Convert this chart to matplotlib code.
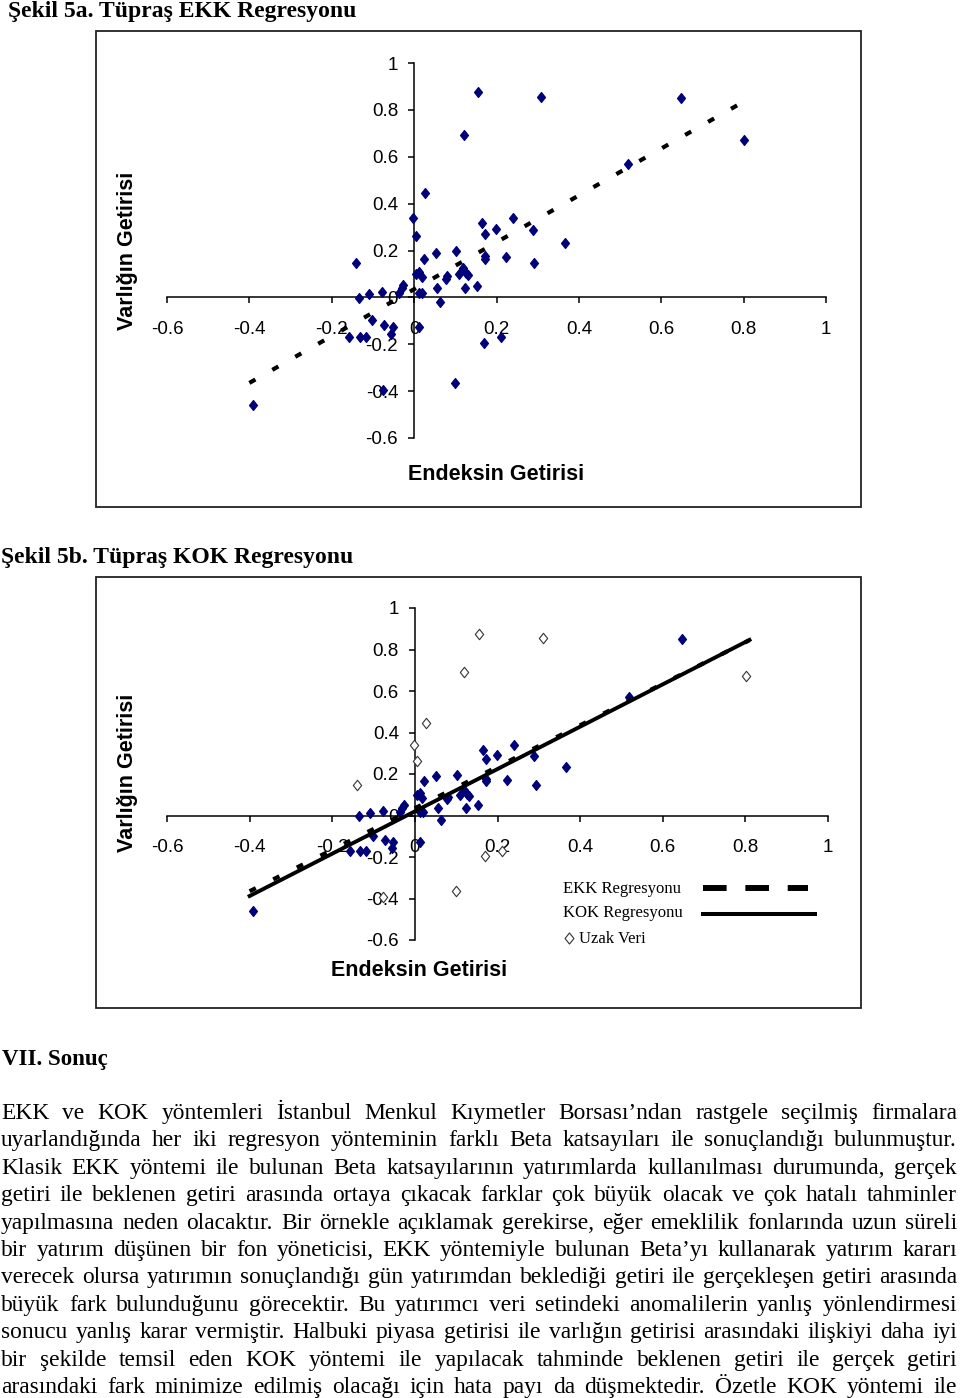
import matplotlib
matplotlib.use("Agg")
import matplotlib.pyplot as plt
from matplotlib.lines import Line2D
from matplotlib.patches import Rectangle
from matplotlib.path import Path

W, H = 960, 1398

# index return (x) vs asset return (y)
endeks = [0.155, 0.309, 0.647, 0.120, 0.801, 0.519, 0.027, -0.002, 0.004, 0.239,
          0.166, 0.199, 0.172, 0.288, 0.367, 0.102, 0.052, 0.023, -0.141, 0.173,
          0.172, 0.224, 0.292, 0.004, 0.012, 0.018, 0.077, 0.081, 0.110, 0.119,
          0.126, 0.132, 0.153, 0.056, 0.123, -0.026, -0.030, -0.036, 0.012, 0.019,
          -0.078, -0.109, -0.135, 0.063, -0.102, -0.072, -0.052, -0.056, 0.012, -0.158,
          -0.132, -0.118, 0.170, 0.210, 0.099, -0.076, -0.391]
varlik = [0.875, 0.855, 0.849, 0.693, 0.673, 0.570, 0.445, 0.339, 0.263, 0.339,
          0.316, 0.290, 0.272, 0.289, 0.232, 0.196, 0.191, 0.164, 0.145, 0.178,
          0.164, 0.171, 0.145, 0.100, 0.107, 0.085, 0.078, 0.090, 0.100, 0.124,
          0.102, 0.095, 0.050, 0.038, 0.038, 0.053, 0.038, 0.018, 0.018, 0.018,
          0.024, 0.014, -0.001, -0.021, -0.097, -0.117, -0.128, -0.156, -0.128, -0.171,
          -0.171, -0.171, -0.195, -0.171, -0.366, -0.394, -0.461]
# points treated as outliers ("Uzak Veri") by the KOK regression
uzak = [1, 1, 0, 1, 1, 0, 1, 1, 1, 0,
        0, 0, 0, 0, 0, 0, 0, 0, 1, 0,
        0, 0, 0, 0, 0, 0, 0, 0, 0, 0,
        0, 0, 0, 0, 0, 0, 0, 0, 0, 0,
        0, 0, 0, 0, 0, 0, 0, 0, 0, 0,
        0, 0, 1, 1, 1, 1, 0]

ekk_beta, ekk_alfa = 1.00, 0.035
kok_beta, kok_alfa = 1.02, 0.02
line_x = [-0.40, 0.81]

tick_vals = [-0.6, -0.4, -0.2, 0, 0.2, 0.4, 0.6, 0.8, 1]
tick_labels = ["-0.6", "-0.4", "-0.2", "0", "0.2", "0.4", "0.6", "0.8", "1"]

baslik_a = "Şekil 5a. Tüpraş EKK Regresyonu"
baslik_b = "Şekil 5b. Tüpraş KOK Regresyonu"
bolum = "VII. Sonuç"
legend_labels = ["EKK Regresyonu", "KOK Regresyonu", "Uzak Veri"]
paragraf = [
    "EKK ve KOK yöntemleri İstanbul Menkul Kıymetler Borsası’ndan rastgele seçilmiş firmalara",
    "uyarlandığında her iki regresyon yönteminin farklı Beta katsayıları ile sonuçlandığı bulunmuştur.",
    "Klasik EKK yöntemi ile bulunan Beta katsayılarının yatırımlarda kullanılması durumunda, gerçek",
    "getiri ile beklenen getiri arasında ortaya çıkacak farklar çok büyük olacak ve çok hatalı tahminler",
    "yapılmasına neden olacaktır. Bir örnekle açıklamak gerekirse, eğer emeklilik fonlarında uzun süreli",
    "bir yatırım düşünen bir fon yöneticisi, EKK yöntemiyle bulunan Beta’yı kullanarak yatırım kararı",
    "verecek olursa yatırımın sonuçlandığı gün yatırımdan beklediği getiri ile gerçekleşen getiri arasında",
    "büyük fark bulunduğunu görecektir. Bu yatırımcı veri setindeki anomalilerin yanlış yönlendirmesi",
    "sonucu yanlış karar vermiştir. Halbuki piyasa getirisi ile varlığın getirisi arasındaki ilişkiyi daha iyi",
    "bir şekilde temsil eden KOK yöntemi ile yapılacak tahminde beklenen getiri ile gerçek getiri",
    "arasındaki fark minimize edilmiş olacağı için hata payı da düşmektedir. Özetle KOK yöntemi ile",
]

plt.rcParams["axes.unicode_minus"] = False
plt.rcParams["lines.scale_dashes"] = False
SANS = "Liberation Sans"
SERIF = "Liberation Serif"
NAVY = "#00007a"

diamond = Path([(0, 1), (0.8, 0), (0, -1), (-0.8, 0), (0, 1)],
               [Path.MOVETO, Path.LINETO, Path.LINETO, Path.LINETO, Path.CLOSEPOLY])


def fx(x):
    return x / W


def fy(y):
    return 1 - y / H


def make_axes(fig, left, right, top, bottom):
    ax = fig.add_axes([fx(left), fy(bottom), (right - left) / W, (bottom - top) / H])
    ax.set_xlim(-0.6, 1.0)
    ax.set_ylim(-0.6, 1.0)
    ax.patch.set_visible(False)
    ax.spines["top"].set_visible(False)
    ax.spines["right"].set_visible(False)
    ax.spines["left"].set_position(("data", 0))
    ax.spines["bottom"].set_position(("data", 0))
    for s in ["left", "bottom"]:
        ax.spines[s].set_linewidth(1.1)
    ax.set_xticks(tick_vals)
    ax.set_xticklabels(tick_labels, fontfamily=SANS)
    ax.set_yticks(tick_vals)
    ax.set_yticklabels(tick_labels, fontfamily=SANS)
    ax.tick_params(axis="x", direction="out", length=4.5, width=1.1, pad=12.5, labelsize=13.5)
    ax.tick_params(axis="y", direction="out", length=4.5, width=1.1, pad=7, labelsize=13.5)
    return ax


def frame(fig, x0, y0, x1, y1):
    fig.patches.append(Rectangle((fx(x0), fy(y1)), (x1 - x0) / W, (y1 - y0) / H,
                                 transform=fig.transFigure, fill=False,
                                 edgecolor="#222222", lw=1.3))


def axis_titles(fig, ylab_xy, xlab_xy):
    fig.text(fx(ylab_xy[0]), fy(ylab_xy[1]), "Varlığın Getirisi", rotation=90,
             ha="center", va="center", fontfamily=SANS, fontweight="bold", fontsize=15.5)
    fig.text(fx(xlab_xy[0]), fy(xlab_xy[1]), "Endeksin Getirisi", ha="center", va="center",
             fontfamily=SANS, fontweight="bold", fontsize=15.5)


fig = plt.figure(figsize=(W / 100, H / 100), dpi=100)

xs = line_x
ekk_y = [ekk_alfa + ekk_beta * v for v in xs]
kok_y = [kok_alfa + kok_beta * v for v in xs]
dash_style = (0, (5, 14))

# ---- Şekil 5a
fig.text(fx(8), fy(17), baslik_a, fontfamily=SERIF, fontweight="bold", fontsize=17,
         va="baseline", ha="left")
frame(fig, 96, 31, 861, 507)
ax1 = make_axes(fig, 167, 826, 63, 438)
ax1.plot(endeks, varlik, ls="none", marker=diamond, ms=7, mfc=NAVY, mec=NAVY, zorder=3)
ax1.plot(xs, ekk_y, color="black", lw=3.0, ls=dash_style, zorder=4)
axis_titles(fig, (128, 251), (496, 474))

# ---- Şekil 5b
fig.text(fx(1), fy(563), baslik_b, fontfamily=SERIF, fontweight="bold", fontsize=17,
         va="baseline", ha="left")
frame(fig, 96, 577, 861, 1008)
ax2 = make_axes(fig, 167, 828, 608, 940)
normal_x = [v for v, u in zip(endeks, uzak) if not u]
normal_y = [v for v, u in zip(varlik, uzak) if not u]
out_x = [v for v, u in zip(endeks, uzak) if u]
out_y = [v for v, u in zip(varlik, uzak) if u]
ax2.plot(normal_x, normal_y, ls="none", marker=diamond, ms=7, mfc=NAVY, mec=NAVY, zorder=3)
ax2.plot(out_x, out_y, ls="none", marker=diamond, ms=7.5, mfc="white", mec="#333333",
         mew=0.8, zorder=3)
ax2.plot(xs, kok_y, color="black", lw=2.8, zorder=4)
ax2.plot(xs, ekk_y, color="black", lw=3.0, ls=dash_style, zorder=5)
axis_titles(fig, (128, 773), (419, 970))

# legend, drawn by hand like the original
fig.text(fx(563), fy(889), legend_labels[0], fontfamily=SERIF, fontsize=12, va="center")
fig.text(fx(563), fy(913), legend_labels[1], fontfamily=SERIF, fontsize=12, va="center")
fig.text(fx(579), fy(939), legend_labels[2], fontfamily=SERIF, fontsize=12, va="center")
fig.lines.append(Line2D([fx(703), fx(808)], [fy(888), fy(888)], transform=fig.transFigure,
                        color="black", lw=4.3, ls=(0, (17, 13.5)), solid_capstyle="butt",
                        dash_capstyle="butt"))
fig.lines.append(Line2D([fx(703), fx(815)], [fy(914), fy(914)], transform=fig.transFigure,
                        color="black", lw=2.9))
fig.lines.append(Line2D([fx(569)], [fy(938)], transform=fig.transFigure, ls="none",
                        marker=diamond, ms=8, mfc="white", mec="#333333", mew=0.8))

# ---- VII. Sonuç
fig.text(fx(2), fy(1065), bolum, fontfamily=SERIF, fontweight="bold", fontsize=16.5,
         va="baseline", ha="left")

# justified paragraph: place each word so every line runs edge to edge
renderer = fig.canvas.get_renderer()
x_left, x_right = 1, 957
for i, line in enumerate(paragraf):
    base = 1119 + i * 27.4
    words = line.split(" ")
    texts = [fig.text(0, fy(base), w, fontfamily=SERIF, fontsize=16.9, va="baseline", ha="left")
             for w in words]
    widths = [t.get_window_extent(renderer).width for t in texts]
    gap = (x_right - x_left - sum(widths)) / (len(words) - 1)
    pos = x_left
    for t, w in zip(texts, widths):
        t.set_x(fx(pos))
        pos += w + gap

fig.savefig("out.png", dpi=100)
